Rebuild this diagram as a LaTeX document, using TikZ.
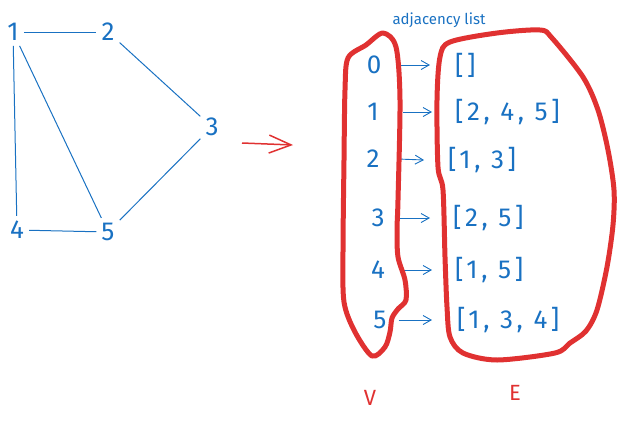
\documentclass[tikz,border=0pt]{standalone}
\usepackage{fontspec}
\setmainfont{Fira Sans}
\newfontfamily\listfont[LetterSpace=14]{Fira Sans}
\usetikzlibrary{arrows.meta}
\definecolor{inkblue}{HTML}{1971C2}
\definecolor{inkred}{HTML}{E03131}
\begin{document}
\begin{tikzpicture}[x=1pt,y=-1pt,
  vtx/.style={text=inkblue,font=\fontsize{26}{28}\selectfont,inner sep=5pt},
  edge/.style={draw=inkblue,line width=1pt},
  lst/.style={text=inkblue,font=\listfont\fontsize{26}{28}\selectfont,anchor=west,inner sep=0pt},
  ptr/.style={draw=inkblue,line width=0.9pt,-{Straight Barb[length=8pt,width=9pt]}},
  blob/.style={draw=inkred,line width=5pt,line join=round},
  lbl/.style={text=inkred,font=\fontsize{22}{24}\selectfont}]
\useasboundingbox (0,0) rectangle (624,426);

% graph
\node[vtx] (g1) at (13,32) {1};
\node[vtx] (g2) at (108,32) {2};
\node[vtx] (g3) at (212,127) {3};
\node[vtx] (g4) at (17,230) {4};
\node[vtx] (g5) at (108,232) {5};
\draw[edge] (g1) -- (g2);
\draw[edge] (g2) -- (g3);
\draw[edge] (g3) -- (g5);
\draw[edge] (g1) -- (g5);
\draw[edge] (g1) -- (g4);
\draw[edge] (g4) -- (g5);

% transition arrow
\coordinate (ta) at (242,143);
\coordinate (tb) at (293,145);
\draw[draw=inkred,line width=1.5pt,-{Straight Barb[length=22pt,width=18pt]}] (ta) -- (tb);

% adjacency list
\node[text=inkblue,font=\fontsize{15}{17}\selectfont] (title) at (439,20) {adjacency list};

\node[vtx] (v0) at (374,65) {0};
\node[vtx] (v1) at (373,112) {1};
\node[vtx] (v2) at (373,159) {2};
\node[vtx] (v3) at (378,218) {3};
\node[vtx] (v4) at (378,270) {4};
\node[vtx] (v5) at (380,320) {5};

\node[lst] (e0) at (455,65) {[]};
\node[lst] (e1) at (455,112) {[2, 4, 5]};
\node[lst] (e2) at (448,160) {[1, 3]};
\node[lst] (e3) at (453,218) {[2, 5]};
\node[lst] (e4) at (455,270) {[1, 5]};
\node[lst] (e5) at (457,320) {[1, 3, 4]};

\draw[ptr] ([xshift=14pt]v0.east) -- ([xshift=-25pt]e0.west);
\draw[ptr] ([xshift=19pt]v1.east) -- ([xshift=-23pt]e1.west);
\draw[ptr] ([xshift=13pt]v2.east) -- ([xshift=-24pt]e2.west);
\draw[ptr] ([xshift=10pt]v3.east) -- ([xshift=-23pt]e3.west);
\draw[ptr] ([xshift=13pt]v4.east) -- ([xshift=-23pt]e4.west);
\draw[ptr] ([xshift=7pt]v5.east) -- ([xshift=-25pt]e5.west);

% vertex set outline
\draw[blob] plot[smooth cycle,tension=0.5] coordinates {
  (383,33) (396,47) (400,100) (398,200) (397,230) (398,257) (405,280)
  (406,300) (398,309) (392,318) (390,332) (385,347) (372,356) (355,332)
  (344,302) (343,250) (344,160) (345,90) (348,58) (366,45)};

% edge set outline
\draw[blob] plot[smooth cycle,tension=0.5] coordinates {
  (450,42) (497,33) (540,30) (552,38) (583,77) (598,110) (608,150)
  (614,190) (613,225) (607,267) (597,310) (586,331) (570,343) (555,353)
  (497,360) (463,353) (450,337) (447,307) (445,257) (443,190) (438,167)
  (437,100) (440,57)};

\node[lbl] (lv) at (370,398) {V};
\node[lbl] (le) at (515,393) {E};
\end{tikzpicture}
\end{document}
